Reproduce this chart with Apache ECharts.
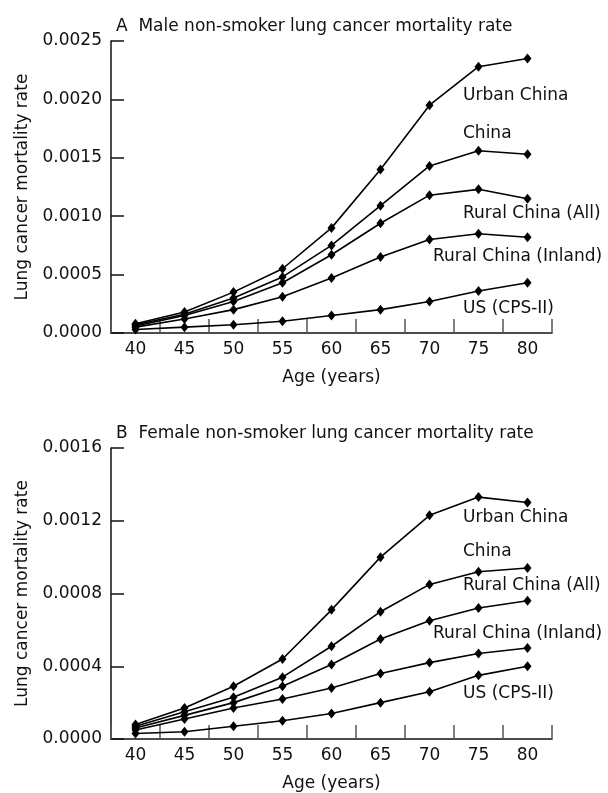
<!DOCTYPE html>
<html>
<head>
<meta charset="utf-8">
<script src="https://cdn.jsdelivr.net/npm/echarts@6/dist/echarts.min.js"></script>
<style>
  html, body { margin: 0; padding: 0; background: #fff; }
  #chart { width: 608px; height: 793px; }
</style>
</head>
<body>
<div id="chart"></div>
<script>
const ages = ["40", "45", "50", "55", "60", "65", "70", "75", "80"];
const seriesNames = ["Urban China", "China", "Rural China (All)", "Rural China (Inland)", "US (CPS-II)"];

// panel A - male
const maleUrban = [0.00008, 0.00018, 0.00035, 0.00055, 0.0009, 0.0014, 0.00195, 0.00228, 0.00235];
const maleChina = [0.00007, 0.00016, 0.0003, 0.00048, 0.00075, 0.00109, 0.00143, 0.00156, 0.00153];
const maleRuralAll = [0.00006, 0.00015, 0.00027, 0.00043, 0.00067, 0.00094, 0.00118, 0.00123, 0.00115];
const maleRuralInland = [0.00005, 0.00012, 0.0002, 0.00031, 0.00047, 0.00065, 0.0008, 0.00085, 0.00082];
const maleUS = [0.00003, 0.00005, 0.00007, 0.0001, 0.00015, 0.0002, 0.00027, 0.00036, 0.00043];

// panel B - female
const femaleUrban = [0.00008, 0.00017, 0.00029, 0.00044, 0.00071, 0.001, 0.00123, 0.00133, 0.0013];
const femaleChina = [0.00007, 0.00015, 0.00023, 0.00034, 0.00051, 0.0007, 0.00085, 0.00092, 0.00094];
const femaleRuralAll = [0.00006, 0.00013, 0.0002, 0.00029, 0.00041, 0.00055, 0.00065, 0.00072, 0.00076];
const femaleRuralInland = [0.00005, 0.00011, 0.00017, 0.00022, 0.00028, 0.00036, 0.00042, 0.00047, 0.0005];
const femaleUS = [0.00003, 0.00004, 0.00007, 0.0001, 0.00014, 0.0002, 0.00026, 0.00035, 0.0004];

const FONT = "DejaVu Sans";
const FS = 17;

const chart = echarts.init(document.getElementById("chart"));

function xAxisFor(idx) {
  return {
    type: "category",
    gridIndex: idx,
    data: ages,
    boundaryGap: true,
    name: "Age (years)",
    nameLocation: "middle",
    nameGap: 36,
    nameTextStyle: { color: "#111", fontSize: FS, fontFamily: FONT },
    axisLine: { show: true, lineStyle: { color: "#111", width: 1.5 } },
    axisTick: { show: true, inside: true, length: 14, lineStyle: { color: "#555", width: 1.5 } },
    axisLabel: { color: "#111", fontSize: FS, fontFamily: FONT, margin: 8 },
    splitLine: { show: false },
  };
}

function yAxisFor(idx, max, interval) {
  return {
    type: "value",
    gridIndex: idx,
    min: 0,
    max: max,
    interval: interval,
    name: "Lung cancer mortality rate",
    nameLocation: "middle",
    nameGap: 80,
    nameTextStyle: { color: "#111", fontSize: FS, fontFamily: FONT },
    axisLine: { show: true, lineStyle: { color: "#111", width: 1.5 } },
    axisTick: { show: true, inside: true, length: 13, lineStyle: { color: "#111", width: 1.5 } },
    axisLabel: {
      color: "#111", fontSize: FS, fontFamily: FONT, margin: 9,
      formatter: (v) => v.toFixed(4),
    },
    splitLine: { show: false },
  };
}

function lineSeries(name, data, idx) {
  return {
    name: name,
    type: "line",
    xAxisIndex: idx,
    yAxisIndex: idx,
    data: data,
    symbol: "diamond",
    symbolSize: [8, 10],
    itemStyle: { color: "#000" },
    lineStyle: { color: "#000", width: 1.6 },
    z: 3,
    animation: false,
  };
}

function label(text, x, y) {
  return {
    type: "text",
    left: x,
    top: y,
    style: { text: text, fill: "#111", fontSize: FS, fontFamily: FONT },
  };
}

const option = {
  backgroundColor: "#fff",
  animation: false,
  title: [
    {
      text: "A  Male non-smoker lung cancer mortality rate",
      left: 111, top: 13,
      textStyle: { color: "#111", fontSize: FS, fontWeight: "normal", fontFamily: FONT },
    },
    {
      text: "B  Female non-smoker lung cancer mortality rate",
      left: 111, top: 420,
      textStyle: { color: "#111", fontSize: FS, fontWeight: "normal", fontFamily: FONT },
    },
  ],
  grid: [
    { left: 111, top: 41, width: 441, height: 292 },
    { left: 111, top: 448, width: 441, height: 292 },
  ],
  xAxis: [xAxisFor(0), xAxisFor(1)],
  yAxis: [yAxisFor(0, 0.0025, 0.0005), yAxisFor(1, 0.0016, 0.0004)],
  series: [
    lineSeries(seriesNames[0], maleUrban, 0),
    lineSeries(seriesNames[1], maleChina, 0),
    lineSeries(seriesNames[2], maleRuralAll, 0),
    lineSeries(seriesNames[3], maleRuralInland, 0),
    lineSeries(seriesNames[4], maleUS, 0),
    lineSeries(seriesNames[0], femaleUrban, 1),
    lineSeries(seriesNames[1], femaleChina, 1),
    lineSeries(seriesNames[2], femaleRuralAll, 1),
    lineSeries(seriesNames[3], femaleRuralInland, 1),
    lineSeries(seriesNames[4], femaleUS, 1),
  ],
  graphic: [
    label(seriesNames[0], 463, 87),
    label(seriesNames[1], 463, 125),
    label(seriesNames[2], 463, 205),
    label(seriesNames[3], 433, 248),
    label(seriesNames[4], 463, 300),
    label(seriesNames[0], 463, 509),
    label(seriesNames[1], 463, 543),
    label(seriesNames[2], 463, 577),
    label(seriesNames[3], 433, 625),
    label(seriesNames[4], 463, 685),
  ],
};

chart.setOption(option);
</script>
</body>
</html>
